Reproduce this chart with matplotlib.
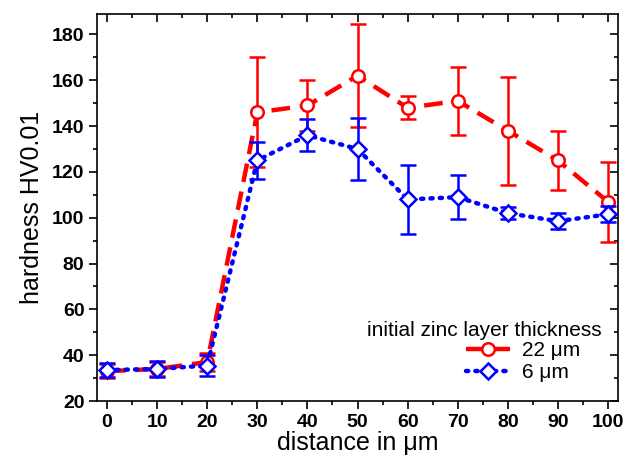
import matplotlib
matplotlib.use("Agg")
import matplotlib.pyplot as plt
from matplotlib.ticker import MultipleLocator
from matplotlib.lines import Line2D

plt.rcParams['font.family'] = ['Liberation Sans', 'DejaVu Sans']

distance = [0, 10, 20, 30, 40, 50, 60, 70, 80, 90, 100]
hv_22 = [33, 34, 37, 146, 149, 162, 148, 151, 138, 125, 107]
err_22 = [3, 3, 4, 24, 11, 22.5, 5, 15, 23.5, 13, 17.5]
hv_6 = [33.5, 34, 35.5, 125, 136, 130, 108, 109, 102, 98.5, 101.5]
err_6 = [3, 3.5, 4.5, 8, 7, 13.5, 15, 9.5, 2.5, 3.5, 3.5]

labels = ["22 \u03bcm", "6 \u03bcm"]
legend_title = "initial zinc layer thickness"

RED = '#ff0000'
BLUE = '#0000ff'
red_style = dict(color=RED, ls=(0, (4.2, 2.2)), lw=3.2, marker='o', ms=9,
                 mfc='white', mec=RED, mew=1.8)
blue_style = dict(color=BLUE, ls=(0, (0.5, 1.6)), lw=3.2, marker='D', ms=8,
                  mfc='white', mec=BLUE, mew=1.8, dash_capstyle='round')

fig = plt.figure(figsize=(6.27, 4.62), dpi=100)
ax = fig.add_axes([0.1547, 0.132, 0.831, 0.838])

ax.errorbar(distance, hv_22, yerr=err_22, ecolor=RED, elinewidth=1.8,
            capsize=6, capthick=1.8, zorder=3, **red_style)
ax.errorbar(distance, hv_6, yerr=err_6, ecolor=BLUE, elinewidth=1.8,
            capsize=6, capthick=1.8, zorder=4, **blue_style)

ax.set_xlim(-2, 102)
ax.set_ylim(20, 189)
ax.xaxis.set_major_locator(MultipleLocator(10))
ax.xaxis.set_minor_locator(MultipleLocator(5))
ax.yaxis.set_major_locator(MultipleLocator(20))
ax.yaxis.set_minor_locator(MultipleLocator(10))

ax.tick_params(which='both', direction='out', top=True, right=True, width=1.2)
ax.tick_params(which='major', length=6, pad=3)
ax.tick_params(which='minor', length=3)
for t in ax.xaxis.get_major_ticks() + ax.xaxis.get_minor_ticks():
    t.tick2line.set_marker(3)  # inward on top
for t in ax.yaxis.get_major_ticks() + ax.yaxis.get_minor_ticks():
    t.tick2line.set_marker(0)  # inward on right
ax.tick_params(labelsize=14)
for lab in ax.get_xticklabels() + ax.get_yticklabels():
    lab.set_fontweight('bold')
for s in ax.spines.values():
    s.set_linewidth(1.2)

ax.set_xlabel("distance in \u03bcm", fontsize=18, labelpad=0)
ax.set_ylabel("hardness HV0.01", fontsize=18, labelpad=6)

fig.text(602 / 627, 1 - 330 / 462, legend_title, ha='right', va='center', fontsize=15)
handles = [Line2D([], [], **red_style), Line2D([], [], **blue_style)]
ax.legend(handles, labels, loc='upper left', bbox_to_anchor=(466 / 627, 1 - 341 / 462),
          bbox_transform=fig.transFigure, frameon=False, fontsize=15,
          handlelength=2.1, handletextpad=0.6, labelspacing=0.15,
          borderpad=0, borderaxespad=0)

fig.savefig("out.png", dpi=100)
